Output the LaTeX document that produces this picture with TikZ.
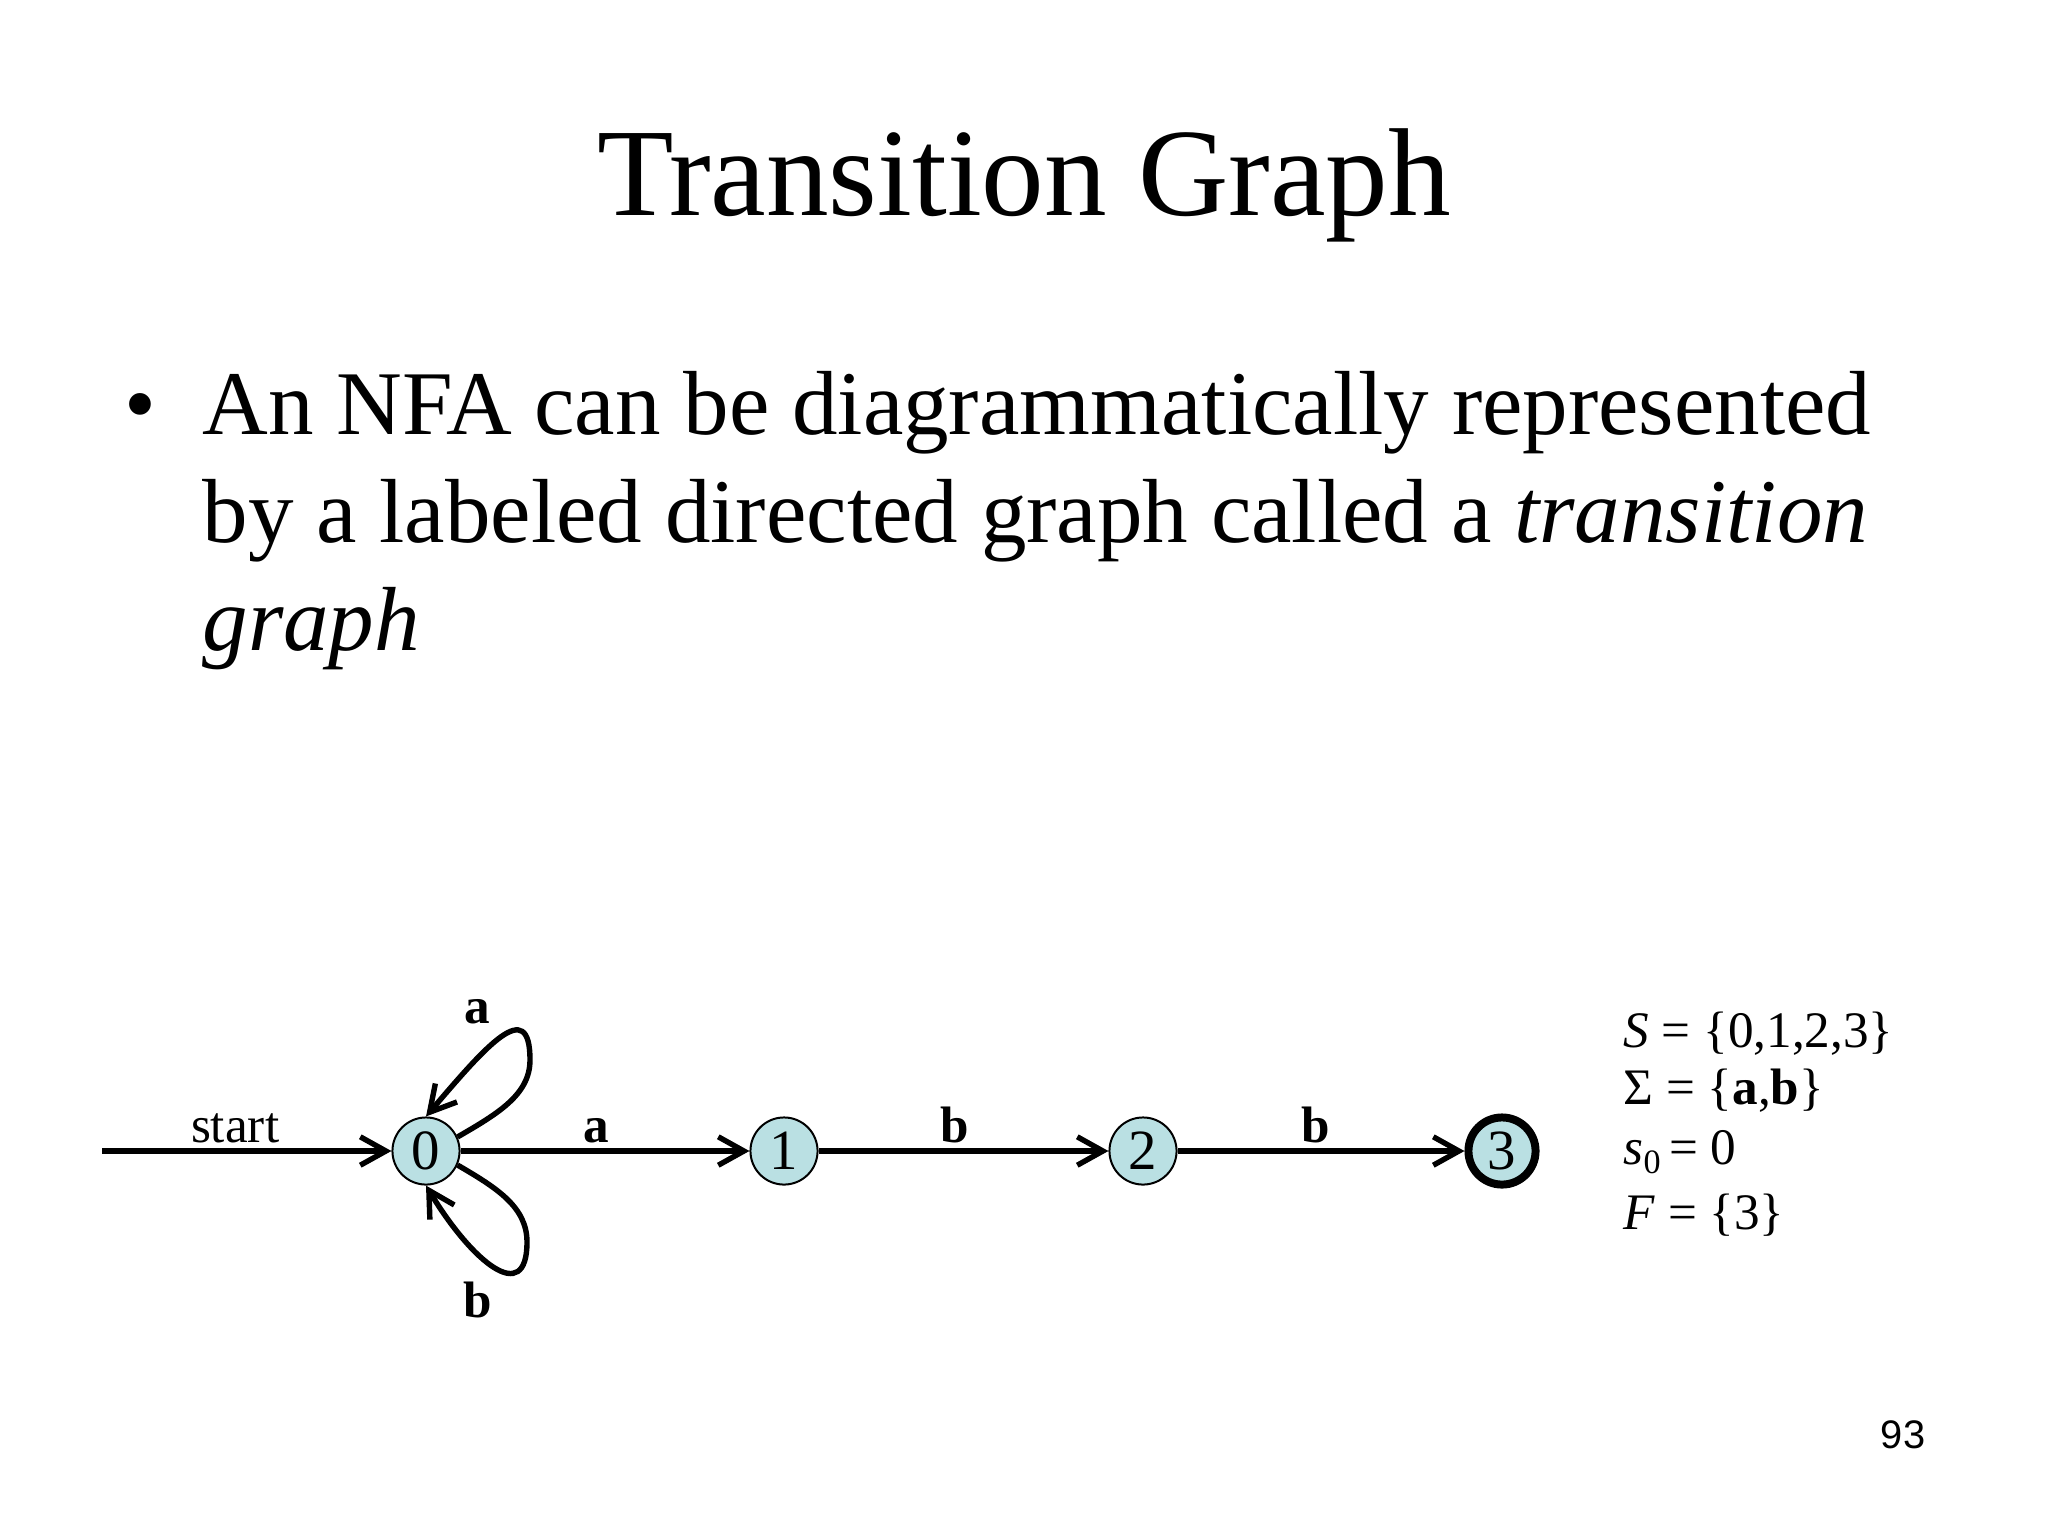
\documentclass[tikz,border=0pt]{standalone}
\usepackage{fontspec}
\setmainfont{Liberation Serif}
\newfontfamily\pagefont{Liberation Sans}
\usepackage{tikz}
\usetikzlibrary{arrows.meta,positioning}
\definecolor{statefill}{RGB}{186,224,227}

\begin{document}
\begin{tikzpicture}[x=0.3516pt, y=-0.3516pt,
		state/.style={circle, draw=black, line width=0.7pt, fill=statefill, minimum size=23.6pt, inner sep=0pt, font=\fontsize{20}{20}\selectfont},
		accepting/.style={line width=2.8pt},
		trans/.style={line width=1.9pt, -{Straight Barb[length=9pt,width=10pt]}},
		edgelabel/.style={font=\bfseries\fontsize{18}{18}\selectfont, inner sep=1pt},
		body/.style={anchor=base west, inner sep=0pt, font=\fontsize{32}{38}\selectfont},
		setline/.style={anchor=base west, inner sep=0pt, font=\fontsize{18}{21}\selectfont}]

				\fill[white] (0,0) rectangle (2048,1536);
				\useasboundingbox (0,0) rectangle (2048,1536);

				% slide text
				\node[anchor=base, inner sep=0pt, font=\fontsize{44}{44}\selectfont] (title) at (1024,215) {Transition Graph};
				\node[body] (bullet) at (124,434) {•};
				\node[body] (line1) at (202,434) {An NFA can be diagrammatically represented};
				\node[body] (line2) at (202,542) {by a labeled directed graph called a \textit{transition}};
				\node[body] (line3) at (202,650) {\textit{graph}};

				% states
				\coordinate (begin) at (102,1151);
				\node[state] (q0) at (426,1151) {0};
				\node[state] (q1) at (784,1151) {1};
				\node[state] (q2) at (1143,1151) {2};
				\node[state, accepting] (q3) at (1502,1151) {3};

				\draw [trans] (begin) to node[pos=0.46, above=1pt, inner sep=1pt, font=\fontsize{18}{18}\selectfont] {start} (q0);
				\draw [trans] (q0) to node[edgelabel, pos=0.47, above=1pt] {a} (q1);
				\draw [trans] (q1) to node[edgelabel, pos=0.47, above=1pt] {b} (q2);
				\draw [trans] (q2) to node[edgelabel, pos=0.48, above=1pt] {b} (q3);

				% self loops on 0
				\coordinate (topa) at (530,1060);
				\coordinate (botb) at (527,1242);
				\draw [trans] (q0.24) .. controls (497,1114) and (530,1095) .. (topa)
					.. controls (530,995) and (486,1046) .. (q0.north);
				\draw [trans] (q0.-24) .. controls (497,1188) and (527,1207) .. (botb)
					.. controls (527,1307) and (472,1262) .. (q0.south);
				\node[edgelabel, anchor=base] (la) at (477,1023) {a};
				\node[edgelabel, anchor=base] (lb) at (478,1317) {b};

				% definition of the NFA
				\node[setline] (setS) at (1623,1047) {\textit{S} = \{0,1,2,3\}};
				\node[setline] (setSigma) at (1623,1104) {Σ = \{\textbf{a},\textbf{b}\}};
				\node[setline] (setStart) at (1623,1164) {\textit{s}\raisebox{-0.4ex}{\fontsize{12}{12}\selectfont 0}\,= 0};
				\node[setline] (setF) at (1623,1229) {\textit{F} = \{3\}};

				\node[anchor=base, inner sep=0pt, font=\pagefont\fontsize{14}{14}\selectfont] (pagenum) at (1903,1448) {93};
\end{tikzpicture}
\end{document}
